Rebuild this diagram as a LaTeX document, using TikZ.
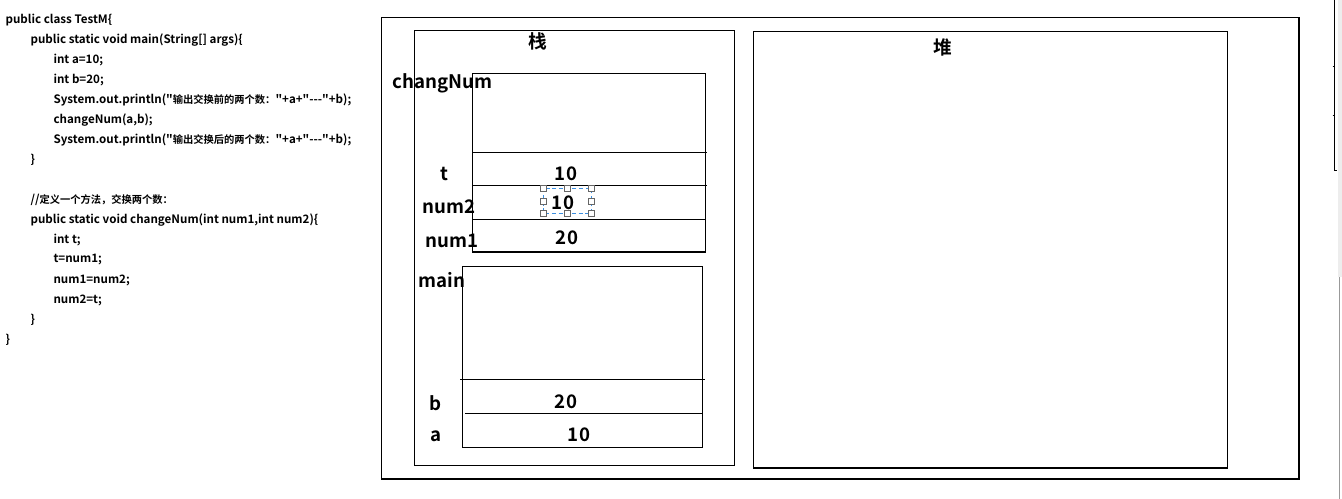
\documentclass[tikz,border=0pt]{standalone}
\usepackage{fontspec}
\setmainfont{Noto Sans CJK SC}[BoldFont={Noto Sans CJK SC Bold},Ligatures=TeXOff]
\newcommand{\cj}[1]{{\fontsize{7.7pt}{9pt}\selectfont #1}}
\begin{document}
\begin{tikzpicture}[x=0.75pt,y=-0.75pt,line width=0.8pt,
  code/.style={anchor=west,inner sep=0pt,font=\bfseries\fontsize{8.7pt}{11pt}\selectfont},
  lbl/.style={inner sep=0pt,font=\bfseries\fontsize{14pt}{16pt}\selectfont},
  handle/.style={draw=black!60,fill=white,line width=0.6pt,minimum size=4.5pt,inner sep=0pt,rectangle}]
\useasboundingbox (0,0) rectangle (1342,499);
\fill[white] (0,0) rectangle (1342,499);
% code
\node[code] (c1) at (5,20) {public class TestM\{};
\node[code] (c2) at (30,40) {public static void main(String[] args)\{};
\node[code] (c3) at (53,60) {int a=10;};
\node[code] (c4) at (53,80) {int b=20;};
\node[code] (c5) at (53,100) {System.out.println("\cj{输出交换前的两个数：}"+a+"---"+b);};
\node[code] (c6) at (53,120) {changeNum(a,b);};
\node[code] (c7) at (53,140) {System.out.println("\cj{输出交换后的两个数：}"+a+"---"+b);};
\node[code] (c8) at (30,160) {\}};
\node[code] (c9) at (30,200) {//\cj{定义一个方法，交换两个数：}};
\node[code] (c10) at (30,220) {public static void changeNum(int num1,int num2)\{};
\node[code] (c11) at (53,240) {int t;};
\node[code] (c12) at (53,260) {t=num1;};
\node[code] (c13) at (53,280) {num1=num2;};
\node[code] (c14) at (53,300) {num2=t;};
\node[code] (c15) at (30,320) {\}};
\node[code] (c16) at (5,340) {\}};
% frames
\draw (381.5,17.5) rectangle (1299,479);
\draw (414.5,30.5) rectangle (734.5,465.5);
\draw (753.5,31.5) rectangle (1227.5,468);
\draw (472.5,73.5) rectangle (705.5,252);
\draw (472.5,152.5) -- (707,152.5);
\draw (472.5,185.5) -- (707,185.5);
\draw (472.5,219.5) -- (705.5,219.5);
\draw (462.5,266.5) rectangle (702.5,447.5);
\draw (460,379.5) -- (705,379.5);
\draw (465,413.5) -- (702.5,413.5);
% labels
\node[lbl] (zhan) at (538,41) {栈};
\node[lbl] (dui) at (943,47) {堆};
\node[lbl] (lcn) at (442.5,83) {changNum};
\node[lbl] (lt) at (444,174) {t};
\node[lbl] (vt) at (566,174) {10};
\node[lbl] (ln2) at (449,207) {num2};
\node[lbl] (vn2) at (563,203) {10};
\node[lbl] (ln1) at (452,241) {num1};
\node[lbl] (vn1) at (567,238) {20};
\node[lbl] (lmain) at (442,280) {main};
\node[lbl] (lb) at (435.7,403) {b};
\node[lbl] (vb) at (566,402) {20};
\node[lbl] (la) at (435.7,436) {a};
\node[lbl] (va) at (579,435) {10};
% selection box
\draw[color={rgb,255:red,61;green,143;blue,224},dash pattern=on 3pt off 2pt,line width=0.6pt] (543.5,188.5) rectangle (591.5,213.5);
\foreach \hx in {543.5,567.5,591.5}{
  \node[handle] at (\hx,188.5) {};
  \node[handle] at (\hx,213.5) {};}
\node[handle] at (543.5,201) {};
\node[handle] at (591.5,201) {};
% right edge artifacts
\fill[black!7] (1338,0) rectangle (1342,277);
\draw[black!40,line width=0.75pt] (1339.5,277) -- (1339.5,499);
\draw[line width=0.75pt] (1334.5,0) -- (1334.5,171) -- (1337,171);
\draw[line width=0.75pt] (1332.5,66.5) -- (1334.5,66.5);
\draw[line width=0.75pt] (1332.5,115.5) -- (1334.5,115.5);
\end{tikzpicture}
\end{document}
